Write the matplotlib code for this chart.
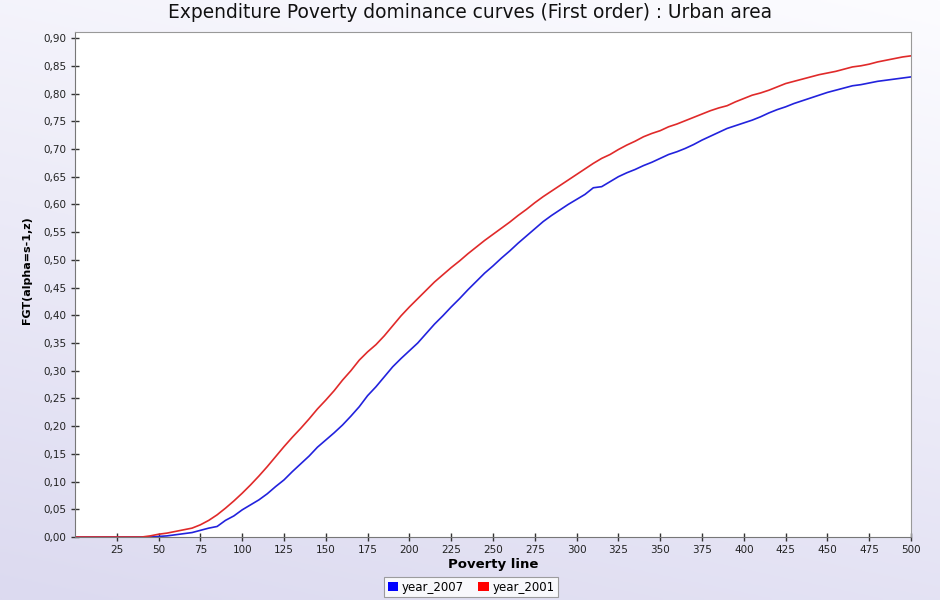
import matplotlib
matplotlib.use('Agg')
import matplotlib.pyplot as plt
from matplotlib.ticker import FuncFormatter, MultipleLocator
from matplotlib.patches import Patch
import numpy as np

# poverty line values (x axis)
poverty_line = [0, 10, 20, 30, 40, 45, 50, 55, 60, 65, 70, 75, 80, 85, 90, 95,
                100, 105, 110, 115, 120, 125, 130, 135, 140, 145, 150, 155, 160, 165,
                170, 175, 180, 185, 190, 195, 200, 205, 210, 215, 220, 225, 230, 235,
                240, 245, 250, 255, 260, 265, 270, 275, 280, 285, 290, 295, 300, 305,
                310, 315, 320, 325, 330, 335, 340, 345, 350, 355, 360, 365, 370, 375,
                380, 385, 390, 395, 400, 405, 410, 415, 420, 425, 430, 435, 440, 445,
                450, 455, 460, 465, 470, 475, 480, 485, 490, 495, 500]

year_2007 = [0, 0, 0, 0, 0, 0, 0.001, 0.002, 0.004, 0.006, 0.008, 0.012, 0.016, 0.019,
             0.030, 0.038, 0.049, 0.058, 0.067, 0.078, 0.091, 0.103, 0.118, 0.132,
             0.146, 0.162, 0.175, 0.188, 0.202, 0.218, 0.235, 0.255, 0.271, 0.289,
             0.307, 0.322, 0.336, 0.350, 0.367, 0.384, 0.399, 0.415, 0.430, 0.446,
             0.461, 0.476, 0.489, 0.503, 0.516, 0.530, 0.543, 0.556, 0.569, 0.580,
             0.590, 0.600, 0.609, 0.618, 0.630, 0.632, 0.641, 0.650, 0.657, 0.663,
             0.670, 0.676, 0.683, 0.690, 0.695, 0.701, 0.708, 0.716, 0.723, 0.730,
             0.737, 0.742, 0.747, 0.752, 0.758, 0.765, 0.771, 0.776, 0.782, 0.787,
             0.792, 0.797, 0.802, 0.806, 0.810, 0.814, 0.816, 0.819, 0.822, 0.824,
             0.826, 0.828, 0.830]

year_2001 = [0, 0, 0, 0, 0, 0.002, 0.005, 0.007, 0.010, 0.013, 0.016, 0.022, 0.030,
             0.040, 0.052, 0.065, 0.079, 0.094, 0.110, 0.127, 0.145, 0.163, 0.180,
             0.196, 0.213, 0.231, 0.247, 0.264, 0.283, 0.300, 0.319, 0.334, 0.347,
             0.363, 0.381, 0.399, 0.415, 0.430, 0.445, 0.460, 0.473, 0.486, 0.498,
             0.511, 0.523, 0.535, 0.546, 0.557, 0.568, 0.580, 0.591, 0.603, 0.614,
             0.624, 0.634, 0.644, 0.654, 0.664, 0.674, 0.683, 0.690, 0.699, 0.707,
             0.714, 0.722, 0.728, 0.733, 0.740, 0.745, 0.751, 0.757, 0.763, 0.769,
             0.774, 0.778, 0.785, 0.791, 0.797, 0.801, 0.806, 0.812, 0.818, 0.822,
             0.826, 0.830, 0.834, 0.837, 0.840, 0.844, 0.848, 0.850, 0.853, 0.857,
             0.860, 0.863, 0.866, 0.868]

x_ticks = [25, 50, 75, 100, 125, 150, 175, 200, 225, 250, 275, 300, 325, 350,
           375, 400, 425, 450, 475, 500]

title = "Expenditure Poverty dominance curves (First order) : Urban area"

plt.rcParams['font.family'] = 'DejaVu Sans'

fig = plt.figure(figsize=(9.4, 6), dpi=100)

# lavender gradient background (white top-right, lavender bottom-left)
bg = fig.add_axes([0, 0, 1, 1], zorder=-10)
gy, gx = np.mgrid[0:1:200j, 0:1:200j]
t = np.clip(0.75 * gy + 0.25 * (1 - gx), 0, 1)
top = np.array([252, 252, 255]) / 255.0
bot = np.array([220, 218, 240]) / 255.0
img = top[None, None, :] * (1 - t[..., None]) + bot[None, None, :] * t[..., None]
bg.imshow(img, aspect='auto', extent=[0, 1, 0, 1], origin='upper')
bg.axis('off')

ax = fig.add_axes([75 / 940, 63 / 600, 836 / 940, 505 / 600])
ax.set_facecolor('white')

ax.plot(poverty_line, year_2007, color='#2222dd', lw=1.2)
ax.plot(poverty_line, year_2001, color='#e02a2a', lw=1.2)

ax.set_xlim(0, 500)
ax.set_ylim(0, 0.911)
ax.set_xticks(x_ticks)
ax.yaxis.set_major_locator(MultipleLocator(0.05))
ax.yaxis.set_major_formatter(FuncFormatter(lambda v, p: f"{v:.2f}".replace('.', ',')))
ax.tick_params(direction='inout', length=6, width=1, labelsize=7.5, color='#333333',
               labelcolor='#222222', pad=3)

for s in ['left', 'bottom']:
    ax.spines[s].set_color('#777777')
for s in ['top', 'right']:
    ax.spines[s].set_color('#999999')

ax.set_xlabel('Poverty line', fontsize=9.5, fontweight='bold', labelpad=2)
ax.set_ylabel('FGT(alpha=s-1,z)', fontsize=8, fontweight='bold')
ax.yaxis.set_label_coords(-0.051, 0.528)

fig.text(0.5, 1 - 13 / 600, title, ha='center', va='center', fontsize=13.4, color='#111111')

handles = [Patch(facecolor='#0000ff', edgecolor='none', label='year_2007'),
           Patch(facecolor='#ff0000', edgecolor='none', label='year_2001')]
leg = fig.legend(handles=handles, loc='center', bbox_to_anchor=(471 / 940, 1 - 587 / 600),
                 ncol=2, fontsize=8.5, frameon=True, fancybox=False, handlelength=0.9,
                 handleheight=0.9, handletextpad=0.3, columnspacing=1.2, borderpad=0.3)
leg.get_frame().set_edgecolor('#888888')
leg.get_frame().set_linewidth(0.8)

fig.savefig('out.png', dpi=100)
